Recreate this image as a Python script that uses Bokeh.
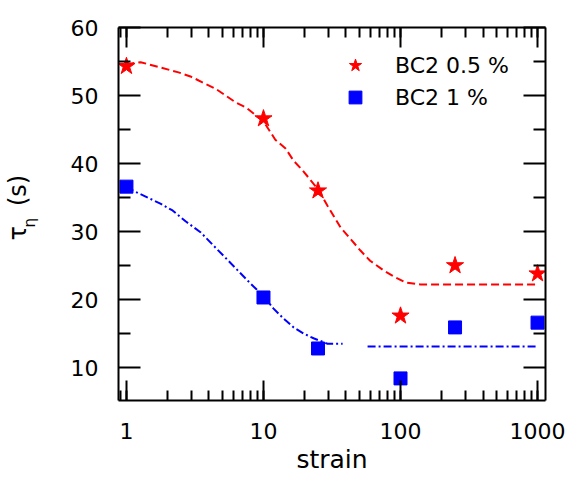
from bokeh.plotting import figure
from bokeh.models import (Range1d, LogAxis, LinearAxis, FixedTicker, LogTicker,
                          Legend, LegendItem, Title, CustomJSTickFormatter,
                          BasicTickFormatter)
from bokeh.embed import file_html
from bokeh.resources import INLINE

# ---- data ----
strain = [1, 10, 25, 100, 250, 1000]
tau_05 = [54.3, 46.6, 36.0, 17.6, 25.0, 23.8]
tau_1 = [36.6, 20.3, 12.8, 8.4, 15.9, 16.6]

fit05_x = [1, 1.27, 2.4, 2.93, 4.47, 6.25, 7.5, 10, 12.2, 14.5, 16.6, 19.3, 25,
           29.3, 36.5, 51, 60, 75, 89, 109, 140, 1000]
fit05_y = [54.6, 54.9, 53.4, 52.8, 51.0, 49.0, 48.2, 46.2, 43.5, 42.2, 40.4, 39.0,
           36.2, 33.8, 30.6, 27.2, 25.7, 24.3, 23.4, 22.5, 22.2, 22.2]

fit1_x = [1, 1.12, 1.77, 2.17, 2.7, 3.47, 8.0, 10, 11.8, 14.0, 16.6, 19.6, 23.2,
          29.3, 37.8]
fit1_y = [36.6, 36.0, 34.1, 33.1, 31.5, 29.9, 22.4, 20.5, 18.7, 17.2, 15.9, 15.0,
          14.3, 13.5, 13.5]
fit1_flat_x = [57.5, 1000]
fit1_flat_y = [13.1, 13.1]

y_ticks = [10, 20, 30, 40, 50, 60]
y_minor = [15, 25, 35, 45, 55]

FONT = "DejaVu Sans"
RED = "#ff0000"
BLUE = "#0000ff"

p = figure(width=571, height=481, x_axis_type="log",
           x_range=Range1d(0.875, 1143), y_range=Range1d(5.15, 60),
           output_backend="svg", toolbar_location=None,
           min_border_left=118, min_border_right=26, min_border_top=27,
           min_border_bottom=81)
p.outline_line_color = None
p.grid.visible = False
p.background_fill_color = "white"
p.border_fill_color = "white"

# fits
p.line(fit05_x, fit05_y, color=RED, line_width=2, line_dash="8 4")
p.line(fit1_x, fit1_y, color=BLUE, line_width=2, line_dash="8 3 2 3")
p.line(fit1_flat_x, fit1_flat_y, color=BLUE, line_width=2, line_dash="8 3 2 3")

# points
r1 = p.scatter(strain, tau_05, marker="star", size=18, color=RED)
r2 = p.scatter(strain, tau_1, marker="square", size=13, color=BLUE)

# axes
p.add_layout(LogAxis(), "above")
p.add_layout(LinearAxis(), "right")

for ax in p.axis:
    ax.axis_line_width = 2
    ax.axis_line_color = "black"
    ax.major_tick_line_width = 2
    ax.minor_tick_line_width = 2
    ax.major_tick_out = 0
    ax.minor_tick_out = 0
    ax.major_label_text_font = FONT
    ax.major_label_text_font_size = "22px"
    ax.major_label_text_color = "black"

for ax in p.xaxis:
    ax.ticker = LogTicker(num_minor_ticks=10)
    ax.major_tick_in = 20
    ax.minor_tick_in = 10
for ax in p.yaxis:
    ax.ticker = FixedTicker(ticks=y_ticks, minor_ticks=y_minor)
    ax.major_tick_in = 22
    ax.minor_tick_in = 12

p.below[0].formatter = BasicTickFormatter()
p.below[0].major_label_standoff = 22
p.left[0].major_label_standoff = 20
p.above[0].formatter = CustomJSTickFormatter(code="return ' '")
p.right[0].formatter = CustomJSTickFormatter(code="return ' '")
p.above[0].major_label_text_font_size = "4px"
p.right[0].major_label_text_font_size = "4px"
p.above[0].major_label_standoff = 0
p.right[0].major_label_standoff = 0

# x axis title
p.add_layout(Title(text="strain", align="center", text_font=FONT,
                   text_font_size="25px", text_font_style="normal",
                   text_color="black", standoff=2), "below")

# y axis title: spacer, subscript, main text (stacked outward from the axis)
p.add_layout(Title(text="\u00a0", text_font_size="1px", standoff=30), "left")
p.add_layout(Title(text="η", align="left", offset=173, vertical_align="middle",
                   text_font=FONT, text_font_size="15px", text_font_style="normal",
                   text_color="black", standoff=-10), "left")
p.add_layout(Title(text="τ\u00a0\u00a0\u2009(s)", align="left", offset=160,
                   vertical_align="middle", text_font=FONT, text_font_size="24px",
                   text_font_style="normal", text_color="black", standoff=-16), "left")

legend = Legend(items=[LegendItem(label="BC2 0.5 %", renderers=[r1]),
                       LegendItem(label="BC2 1 %", renderers=[r2])],
                location=(217, 287), padding=0, margin=0, spacing=0,
                glyph_width=40, glyph_height=32, label_height=32,
                label_standoff=20, border_line_color=None,
                background_fill_alpha=0, label_text_font=FONT,
                label_text_font_size="22px", label_text_color="black")
p.add_layout(legend)

open("out.html", "w").write(file_html(p, INLINE))
